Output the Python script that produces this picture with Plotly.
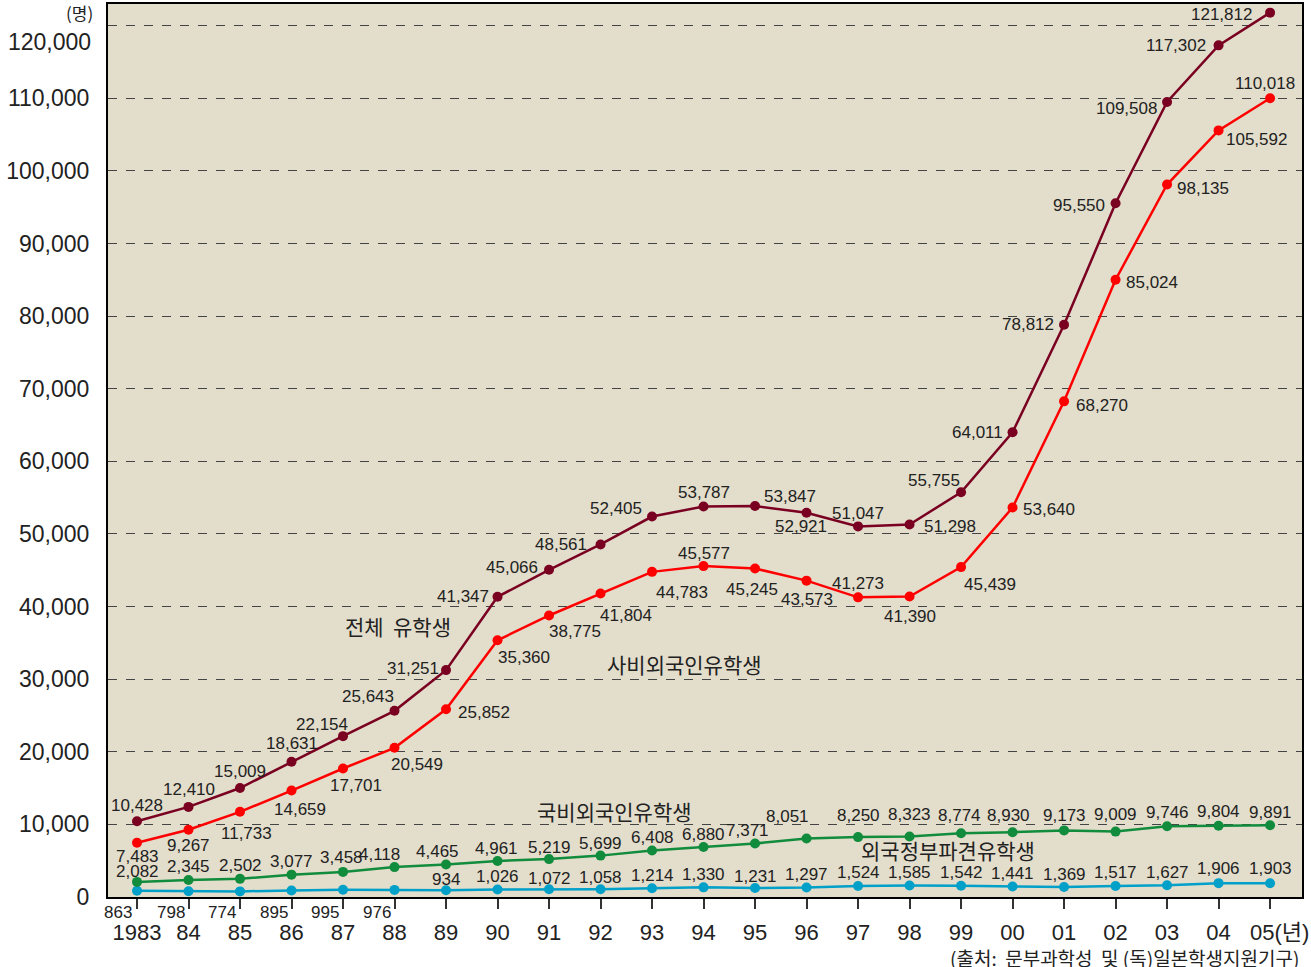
import plotly.graph_objects as go

years = list(range(1983, 2006))
year_labels = ['1983', '84', '85', '86', '87', '88', '89', '90', '91', '92', '93', '94',
               '95', '96', '97', '98', '99', '00', '01', '02', '03', '04', '']
last_year_label = '05(년)'

total = [10428, 12410, 15009, 18631, 22154, 25643, 31251, 41347, 45066, 48561, 52405, 53787,
         53847, 52921, 51047, 51298, 55755, 64011, 78812, 95550, 109508, 117302, 121812]
private = [7483, 9267, 11733, 14659, 17701, 20549, 25852, 35360, 38775, 41804, 44783, 45577,
           45245, 43573, 41273, 41390, 45439, 53640, 68270, 85024, 98135, 105592, 110018]
govt = [2082, 2345, 2502, 3077, 3458, 4118, 4465, 4961, 5219, 5699, 6408, 6880,
        7371, 8051, 8250, 8323, 8774, 8930, 9173, 9009, 9746, 9804, 9891]
foreign_govt = [863, 798, 774, 895, 995, 976, 934, 1026, 1072, 1058, 1214, 1330,
                1231, 1297, 1524, 1585, 1542, 1441, 1369, 1517, 1627, 1906, 1903]

y_ticks = [0, 10000, 20000, 30000, 40000, 50000, 60000, 70000, 80000, 90000, 100000, 110000, 120000]

# label offsets (px) : (dx, dy) with dy positive = up
total_off = [(0, 16), (0, 17), (0, 17), (0, 18), (-21, 12), (-27, 14), (-33, 2), (-35, 0),
             (-37, 2), (-40, 0), (-36, 8), (0, 14), (35, 10), (-6, -14), (0, 13), (40, -2),
             (-27, 12), (-35, 0), (-36, 0), (-37, -2), (-41, -7), (-43, 0), (-49, -2)]
private_off = [(0, -14), (0, -16), (6, -22), (8, -19), (13, -17), (22, -17), (38, -3), (26, -17),
               (26, -16), (25, -22), (30, -21), (0, 13), (-3, -21), (0, -19), (0, 14), (0, -20),
               (29, -17), (36, -2), (38, -4), (36, -3), (36, -4), (38, -9), (-5, 15)]
govt_off = [(0, 10), (0, 13), (0, 13), (0, 13), (-2, 14), (-15, 13), (-9, 13), (-1, 12),
            (0, 12), (0, 12), (0, 13), (0, 13), (-8, 13), (-19, 22), (0, 22), (0, 22),
            (-2, 18), (-4, 17), (0, 15), (0, 17), (0, 14), (0, 14), (0, 13)]
fg_off = [(-19, None), (-18, None), (-18, None), (-18, None), (-18, None), (-18, None),
          (0, 11), (0, 13), (0, 11), (0, 12), (0, 13), (0, 13), (0, 12), (0, 13), (0, 13),
          (0, 13), (0, 13), (0, 13), (0, 13), (0, 13), (0, 13), (0, 15), (0, 15)]

C_TOTAL = '#7A0022'
C_PRIV = '#FF0000'
C_GOVT = '#108C3C'
C_FG = '#00A0C8'
FONT = 'Liberation Sans, Noto Sans CJK KR, sans-serif'
KFONT = 'Noto Sans CJK KR, sans-serif'
TXT = '#222222'

fig = go.Figure()
for vals, col in [(foreign_govt, C_FG), (govt, C_GOVT), (private, C_PRIV), (total, C_TOTAL)]:
    fig.add_trace(go.Scatter(x=years, y=vals, mode='lines+markers',
                             line=dict(color=col, width=2.5),
                             marker=dict(color=col, size=10),
                             showlegend=False, cliponaxis=False))

ann = []

def fmt(v):
    return f'{v:,}'

for vals, offs in [(total, total_off), (private, private_off), (govt, govt_off)]:
    for x, v, (dx, dy) in zip(years, vals, offs):
        ann.append(dict(x=x, y=v, xref='x', yref='y', text=fmt(v), showarrow=False,
                        xshift=dx, yshift=dy, font=dict(family=FONT, size=17, color=TXT)))
for x, v, (dx, dy) in zip(years, foreign_govt, fg_off):
    if dy is None:
        ann.append(dict(x=x, y=0, xref='x', yref='y', text=fmt(v), showarrow=False,
                        xshift=dx, yshift=-15, font=dict(family=FONT, size=17, color=TXT)))
    else:
        ann.append(dict(x=x, y=v, xref='x', yref='y', text=fmt(v), showarrow=False,
                        xshift=dx, yshift=dy, font=dict(family=FONT, size=17, color=TXT)))

# series name labels
for txt, x, y in [('전체  유학생', 1988.07, 37338), ('사비외국인유학생', 1993.64, 32103),
                  ('국비외국인유학생', 1992.28, 11849), ('외국정부파견유학생', 1998.75, 6450)]:
    ann.append(dict(x=x, y=y, xref='x', yref='y', text=txt, showarrow=False,
                    font=dict(family=KFONT, size=21, color=TXT)))

ann.append(dict(x=-0.0235, y=0.99, xref='paper', yref='paper', text='(명)', showarrow=False,
                xanchor='center', yanchor='middle',
                font=dict(family=KFONT, size=17, color=TXT)))
ann.append(dict(x=-0.0126, y=0.958, xref='paper', yref='paper', text='120,000', showarrow=False,
                xanchor='right', yanchor='middle', font=dict(family=FONT, size=23, color=TXT)))
ann.append(dict(x=years[-1], y=-0.0392, xref='x', yref='paper', text=last_year_label,
                showarrow=False, xanchor='left', yanchor='middle', xshift=-22,
                font=dict(family=FONT, size=22, color=TXT)))
ann.append(dict(x=0.7035, y=-0.0672, xref='paper', yref='paper', xanchor='left', yanchor='middle',
                text='(출처:  문부과학성  및 (독)일본학생지원기구)', showarrow=False,
                font=dict(family=KFONT, size=19, color=TXT)))

fig.update_layout(
    width=1311, height=967,
    margin=dict(l=108, r=9, t=4, b=70),
    paper_bgcolor='white',
    plot_bgcolor='#E3DDCB',
    annotations=ann,
    font=dict(family=FONT, color=TXT),
)
fig.update_xaxes(range=[1982.437, 2005.62], tickvals=years, ticktext=year_labels,
                 ticks='outside', ticklen=10, tickcolor='#333', tickwidth=1.5,
                 tickfont=dict(family=FONT, size=22, color=TXT), ticklabelstandoff=5,
                 showgrid=False, zeroline=False, automargin=False,
                 showline=True, mirror=True, linecolor='black', linewidth=2)
fig.update_yaxes(range=[0, 123000], tickvals=y_ticks,
                 ticktext=[fmt(v) if v < 120000 else '' for v in y_ticks],
                 ticks='', tickfont=dict(family=FONT, size=23, color=TXT), ticklabelstandoff=12,
                 showgrid=True, gridcolor='#444', gridwidth=1, griddash='dash',
                 zeroline=False, automargin=False,
                 showline=True, mirror=True, linecolor='black', linewidth=2)

fig.write_html('out.html', config={'displayModeBar': False},
               post_script="document.body.style.margin='0';document.body.style.overflow='hidden';")
